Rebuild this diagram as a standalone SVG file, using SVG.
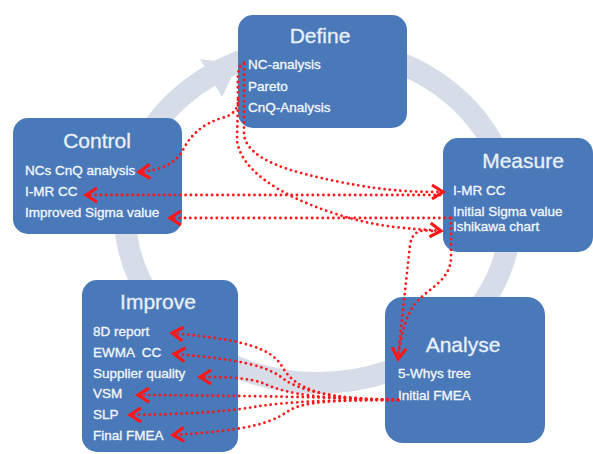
<svg xmlns="http://www.w3.org/2000/svg" width="593" height="454" viewBox="0 0 593 454">
<style>
.box{fill:#4a79b9}
.t{font-family:"Liberation Sans",Arial,sans-serif;font-size:21px;fill:#e9f0f9;stroke:#e9f0f9;stroke-width:0.3;text-anchor:middle}
.i{font-family:"Liberation Sans",Arial,sans-serif;font-size:13.5px;fill:#f4f7fc;stroke:#f4f7fc;stroke-width:0.3;white-space:pre}
.ring{fill:none;stroke:#d6dde9;stroke-width:22}
.dot{fill:none;stroke:#ff1616;stroke-width:2.8;stroke-linecap:round;stroke-dasharray:0 5.3}
.arr{marker-end:url(#ah)}
</style>
<defs>
<marker id="ah" markerWidth="16" markerHeight="18" viewBox="-14 -9 16 18" refX="0" refY="0" orient="auto" markerUnits="userSpaceOnUse" overflow="visible">
<path d="M-11,-7 L0,0 L-11,7" fill="none" stroke="#ff1616" stroke-width="3.2" stroke-dasharray="none"/>
</marker>
</defs>
<rect width="593" height="454" fill="#ffffff"/>
<g id="ring">
<ellipse class="ring" cx="318" cy="215" rx="193" ry="168"/>
<polygon points="200,59 238,64 222,97" fill="#d6dde9"/>
</g>
<g id="define">
<rect class="box" x="238" y="15" width="169" height="113" rx="15"/>
<text class="t" x="320" y="43">Define</text>
<text class="i" x="248" y="69">NC-analysis</text>
<text class="i" x="248" y="91">Pareto</text>
<text class="i" x="248" y="112">CnQ-Analysis</text>
</g>
<g id="control">
<rect class="box" x="13" y="118" width="169" height="116" rx="15"/>
<text class="t" x="97" y="148">Control</text>
<text class="i" x="25" y="175">NCs CnQ analysis</text>
<text class="i" x="25" y="196">I-MR CC</text>
<text class="i" x="25" y="217">Improved Sigma value</text>
</g>
<g id="measure">
<rect class="box" x="443" y="138" width="150" height="114" rx="15"/>
<text class="t" x="523" y="168">Measure</text>
<text class="i" x="453" y="195">I-MR CC</text>
<text class="i" x="453" y="216">Initial Sigma value</text>
<text class="i" x="453" y="231">Ishikawa chart</text>
</g>
<g id="improve">
<rect class="box" x="82" y="280" width="156" height="172" rx="15"/>
<text class="t" x="158" y="309">Improve</text>
<text class="i" x="93" y="336">8D report</text>
<text class="i" x="93" y="357" xml:space="preserve">EWMA  CC</text>
<text class="i" x="93" y="378">Supplier quality</text>
<text class="i" x="93" y="398">VSM</text>
<text class="i" x="93" y="419">SLP</text>
<text class="i" x="93" y="440">Final FMEA</text>
</g>
<g id="analyse">
<rect class="box" x="385" y="297" width="160" height="146" rx="18"/>
<text class="t" x="463" y="352">Analyse</text>
<text class="i" x="398" y="378">5-Whys tree</text>
<text class="i" x="398" y="400">Initial FMEA</text>
</g>
<g id="connectors">
<path class="dot arr" d="M244 63 C236 66 238 80 238 100 Q238 114 222 118 Q195 126 183 150 Q172 170 139 172"/>
<path class="dot arr" d="M244 64 L244 135 C248 160 290 172 340 182 S420 192 443 192"/>
<path class="dot arr" d="M238 100 L237 140 C240 170 280 195 330 212 S410 228 441 231"/>
<path class="dot arr" d="M440 195 L86 195"/>
<path class="dot arr" d="M450 218 L170 218"/>
<path class="dot arr" d="M451 218 L451 258 C450 285 420 290 410 312 Q401 330 398 359"/>
<path class="dot" d="M432 231 C418 229 412 233 410 245 L398 356"/>
<path class="dot arr" d="M398 400 C320 400 295 388 283 368 C272 348 245 340 172 333"/>
<path class="dot arr" d="M398 400 C330 399 300 390 285 380 C270 368 250 360 174 354"/>
<path class="dot arr" d="M398 400 C320 399 290 395 265 384 C250 378 230 377 200 377"/>
<path class="dot arr" d="M398 400 Q300 396 138 395"/>
<path class="dot arr" d="M398 400 C320 400 290 402 260 406 C230 411 200 414 130 415"/>
<path class="dot arr" d="M398 400 C330 400 305 402 290 410 C275 420 260 430 173 435"/>
</g>
</svg>
